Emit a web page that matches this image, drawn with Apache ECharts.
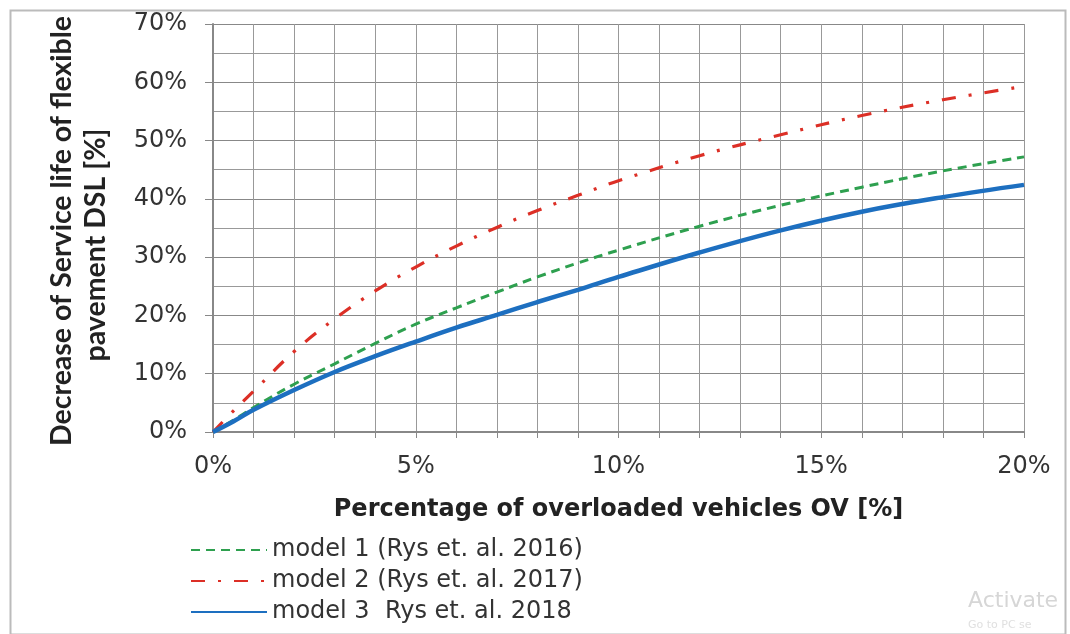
<!DOCTYPE html>
<html>
<head>
<meta charset="utf-8">
<script src="https://cdn.jsdelivr.net/npm/echarts@6/dist/echarts.min.js"></script>
<style>
html,body{margin:0;padding:0;background:#fff;}
#chart{width:1070px;height:634px;}
</style>
</head>
<body>
<div id="chart"></div>
<script>
// Data (percent values)
const ovPercent = [0, 0.5, 1, 2, 3, 4, 5, 6, 7, 8, 9, 10, 12, 14, 16, 18, 20];
const model1 = [0, 2.0, 4.2, 8.2, 11.7, 15.2, 18.5, 21.3, 24.0, 26.6, 29.0, 31.2, 35.3, 38.9, 42.0, 44.8, 47.2];
const model2 = [0, 3.6, 7.0, 13.8, 19.4, 24.2, 28.3, 31.9, 35.1, 38.0, 40.6, 43.1, 47.4, 51.0, 54.3, 57.0, 59.3];
const model3 = [0, 1.8, 3.8, 7.2, 10.3, 13.0, 15.5, 17.9, 20.1, 22.3, 24.4, 26.6, 30.8, 34.6, 37.8, 40.3, 42.4];
const seriesNames = ['model 1 (Rys et. al. 2016)', 'model 2 (Rys et. al. 2017)', 'model 3  Rys et. al. 2018'];
const xTickLabels = ['0%', '5%', '10%', '15%', '20%'];
const yTickLabels = ['0%', '10%', '20%', '30%', '40%', '50%', '60%', '70%'];

const pairs = arr => ovPercent.map((x, i) => [x, arr[i]]);
const FONT = '"DejaVu Sans", sans-serif';
const YFONT = 'Lato, "Open Sans", sans-serif';

const chart = echarts.init(document.getElementById('chart'), null, {renderer: 'canvas'});
chart.setOption({
  animation: false,
  backgroundColor: '#fff',
  grid: {left: 213, right: 46, top: 24, bottom: 202, containLabel: false},
  xAxis: {
    type: 'value', min: 0, max: 20, interval: 1,
    axisLine: {show: true, lineStyle: {color: '#888', width: 2}},
    axisTick: {show: true, length: 6, lineStyle: {color: '#888'}},
    axisLabel: {
      margin: 23, color: '#333', fontSize: 24, fontFamily: FONT,
      formatter: v => (v % 5 === 0 ? xTickLabels[v / 5] : '')
    },
    splitLine: {show: true, lineStyle: {color: '#999', width: 1}},
    name: 'Percentage of overloaded vehicles OV [%]',
    nameLocation: 'middle', nameGap: 66,
    nameTextStyle: {fontSize: 24, fontWeight: 'bold', color: '#222', fontFamily: FONT}
  },
  yAxis: {
    type: 'value', min: 0, max: 70, interval: 10,
    axisLine: {show: true, lineStyle: {color: '#888', width: 2}},
    axisTick: {show: true, length: 8, lineStyle: {color: '#888'}},
    minorTick: {show: true, splitNumber: 2, length: 0},
    minorSplitLine: {show: true, lineStyle: {color: '#999', width: 1}},
    axisLabel: {
      margin: 26, color: '#333', fontSize: 24, fontFamily: FONT,
      formatter: v => yTickLabels[v / 10]
    },
    splitLine: {show: true, lineStyle: {color: '#888', width: 1.2}}
  },
  legend: {
    orient: 'vertical', left: 185, top: 533, itemGap: 7,
    itemWidth: 76, itemHeight: 14,
    itemStyle: {opacity: 0},
    textStyle: {fontSize: 24, color: '#333', fontFamily: FONT},
    data: seriesNames
  },
  series: [
    {name: seriesNames[0], type: 'line', data: pairs(model1), smooth: 0.4, symbol: 'none',
     lineStyle: {color: '#2ea04f', width: 3, type: [9, 6]}, itemStyle: {color: '#2ea04f'}},
    {name: seriesNames[1], type: 'line', data: pairs(model2), smooth: 0.4, symbol: 'none',
     lineStyle: {color: '#dc2f26', width: 3.2, type: [14, 13, 3, 13]}, itemStyle: {color: '#dc2f26'}},
    {name: seriesNames[2], type: 'line', data: pairs(model3), smooth: 0.4, symbol: 'none',
     lineStyle: {color: '#1d6fc0', width: 4.5}, itemStyle: {color: '#1d6fc0'}}
  ],
  graphic: [
    {type: 'rect', left: 8, top: 8, shape: {width: 1055, height: 624},
     style: {fill: 'none', stroke: '#bbb', lineWidth: 2}, silent: true, z: -10},
    {type: 'text', x: 62, y: 231, rotation: Math.PI / 2,
     style: {text: 'Decrease of Service life of flexible', fontSize: 28.5,
       fontWeight: 'bold', fill: '#222', fontFamily: YFONT, align: 'center',
       verticalAlign: 'middle'}},
    {type: 'text', x: 96, y: 245, rotation: Math.PI / 2,
     style: {text: 'pavement DSL [%]', fontSize: 28.5,
       fontWeight: 'bold', fill: '#222', fontFamily: YFONT, align: 'center',
       verticalAlign: 'middle'}},
    {type: 'text', x: 968, y: 590,
     style: {text: 'Activate', fontSize: 22, fill: '#d6d6d6', fontFamily: FONT}},
    {type: 'text', x: 968, y: 620,
     style: {text: 'Go to PC se', fontSize: 11, fill: '#e0e0e0', fontFamily: FONT}}
  ]
});
</script>
</body>
</html>
